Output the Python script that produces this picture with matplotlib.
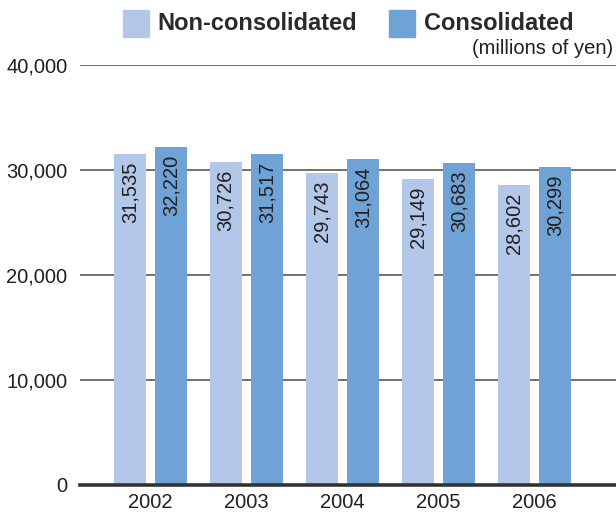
import numpy as np
import matplotlib.pyplot as plt
from matplotlib.patches import Rectangle

years = ["2002", "2003", "2004", "2005", "2006"]
non_consolidated = [31535, 30726, 29743, 29149, 28602]
consolidated = [32220, 31517, 31064, 30683, 30299]
yticks = [0, 10000, 20000, 30000, 40000]

light = "#b3c8e8"
dark = "#6fa2d5"
txt = "#231f20"

plt.rcParams['font.family'] = ['Liberation Sans', 'DejaVu Sans']

fig = plt.figure(figsize=(6.16, 5.15), dpi=100)
ax = fig.add_axes([80 / 616, 30 / 515, 536 / 616, 420 / 515])

x = np.arange(len(years))
w = 0.335
off = 0.217
b1 = ax.bar(x - off, non_consolidated, w, color=light, zorder=2)
b2 = ax.bar(x + off, consolidated, w, color=dark, zorder=2)

# value labels, rotated, just inside the top of each bar
for bars, vals in [(b1, non_consolidated), (b2, consolidated)]:
    for r, v in zip(bars, vals):
        ax.annotate(f"{v:,}", (r.get_x() + r.get_width() / 2, v),
                    xytext=(0, -5.5), textcoords="offset points",
                    rotation=90, ha="center", va="top",
                    fontsize=14.5, color=txt, zorder=3)

ax.set_xlim(-0.735, 4.85)
ax.set_ylim(0, 40000)
ax.set_yticks(yticks)
ax.set_yticklabels([f"{t:,}" for t in yticks])
ax.set_xticks(x)
ax.set_xticklabels(years)
ax.tick_params(axis="both", length=0, labelsize=14.5, colors=txt)
ax.tick_params(axis="y", pad=9)
ax.tick_params(axis="x", pad=6)
for s in ax.spines.values():
    s.set_visible(False)
for t in yticks[1:]:
    ax.axhline(t, color="#4a4a4a", lw=1.1, zorder=1)
ax.axhline(0, color="#333333", lw=2.6, zorder=4, clip_on=False)

# legend drawn by hand
fig.patches.append(Rectangle((123 / 616, 1 - 37 / 515), 26 / 616, 27 / 515,
                             transform=fig.transFigure, color=light))
fig.patches.append(Rectangle((389 / 616, 1 - 37 / 515), 26 / 616, 27 / 515,
                             transform=fig.transFigure, color=dark))
fig.text(157 / 616, 1 - 23.5 / 515, "Non-consolidated", fontsize=17,
         fontweight="bold", color="#2a2a2a", va="center", ha="left")
fig.text(424 / 616, 1 - 23.5 / 515, "Consolidated", fontsize=17,
         fontweight="bold", color="#2a2a2a", va="center", ha="left")
fig.text(613 / 616, 1 - 49 / 515, "(millions of yen)", fontsize=14.5,
         color=txt, va="center", ha="right")

fig.savefig("out.png", dpi=100)
